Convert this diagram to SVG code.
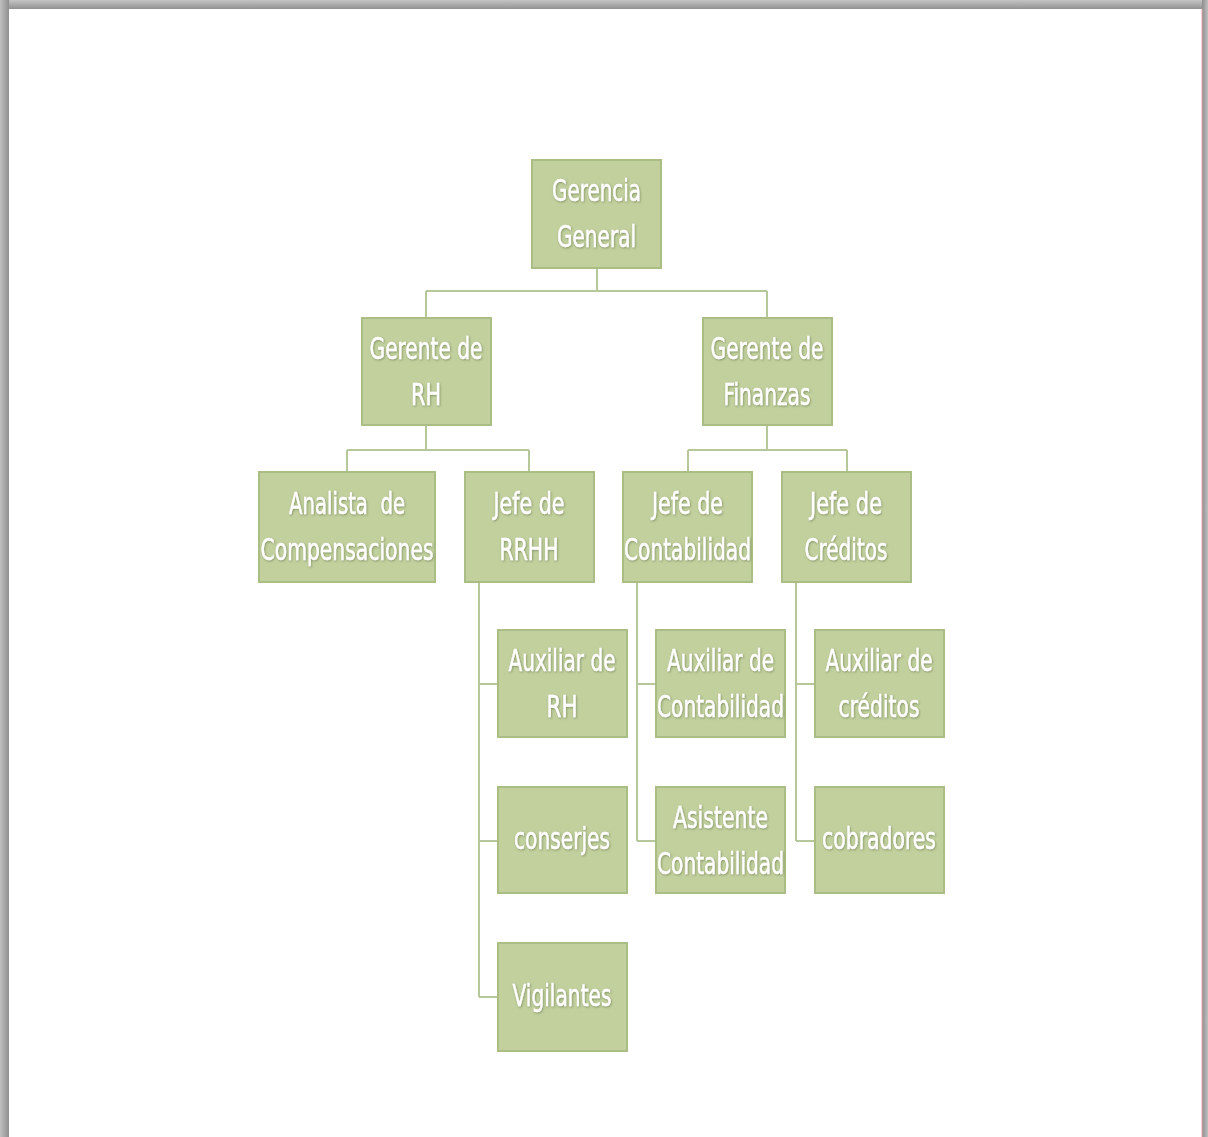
<svg xmlns="http://www.w3.org/2000/svg" width="1208" height="1137" viewBox="0 0 1208 1137">
<defs>
<linearGradient id="top" x1="0" y1="0" x2="0" y2="1"><stop offset="0" stop-color="#c4c4c4"/><stop offset="1" stop-color="#8c8c8c"/></linearGradient>
<linearGradient id="left" x1="0" y1="0" x2="1" y2="0"><stop offset="0" stop-color="#c0c0c0"/><stop offset="1" stop-color="#8e8e8e"/></linearGradient>
<linearGradient id="right" x1="0" y1="0" x2="1" y2="0"><stop offset="0" stop-color="#8e8e8e"/><stop offset="1" stop-color="#c0c0c0"/></linearGradient>
<filter id="ts" x="-5%" y="-10%" width="110%" height="130%"><feDropShadow dx="0.8" dy="1" stdDeviation="0.8" flood-color="#6d7d4c" flood-opacity="0.7"/></filter>
</defs>
<style>
.box{fill:#c2d09e;stroke:#aabd84;stroke-width:2}
.t{font-family:"Liberation Sans Narrow","DejaVu Sans Condensed","Liberation Sans",sans-serif;font-size:31px;fill:#ffffff;stroke:#ffffff;stroke-width:0.5;text-anchor:middle;filter:url(#ts)}
.c{fill:none;stroke:#b6c79a;stroke-width:2}
</style>
<rect x="0" y="0" width="1208" height="1137" fill="#9a9a9a"/>
<rect x="0" y="0" width="1208" height="10" fill="url(#top)"/>
<rect x="0" y="0" width="9" height="1137" fill="url(#left)"/>
<rect x="1202" y="0" width="6" height="1137" fill="url(#right)"/>
<rect x="9" y="9" width="1193" height="1128" fill="#ffffff"/>
<line x1="1202" y1="9" x2="1202" y2="1137" stroke="#e8a0a8" stroke-width="1"/>

<g id="connectors">
<path class="c" d="M597,268 V291 M426,291 H767 M426,291 V318 M767,291 V318"/>
<path class="c" d="M426,425 V450 M347,450 H529 M347,450 V472 M529,450 V472"/>
<path class="c" d="M767,425 V450 M688,450 H847 M688,450 V472 M847,450 V472"/>
<path class="c" d="M479,582 V997 M479,684 H498 M479,841 H498 M479,997 H498"/>
<path class="c" d="M637,582 V841 M637,684 H656 M637,841 H656"/>
<path class="c" d="M796,582 V841 M796,684 H815 M796,841 H815"/>
</g>

<g id="gerencia-general"><rect class="box" x="532" y="160" width="129" height="108"/>
<text class="t" x="596.5" y="201" textLength="89" lengthAdjust="spacingAndGlyphs">Gerencia</text>
<text class="t" x="596.5" y="247" textLength="79" lengthAdjust="spacingAndGlyphs">General</text></g>

<g id="gerente-rh"><rect class="box" x="362" y="318" width="129" height="107"/>
<text class="t" x="426" y="359" textLength="113" lengthAdjust="spacingAndGlyphs">Gerente de</text>
<text class="t" x="426" y="405" textLength="30" lengthAdjust="spacingAndGlyphs">RH</text></g>

<g id="gerente-finanzas"><rect class="box" x="703" y="318" width="129" height="107"/>
<text class="t" x="767" y="359" textLength="113" lengthAdjust="spacingAndGlyphs">Gerente de</text>
<text class="t" x="767" y="405" textLength="87" lengthAdjust="spacingAndGlyphs">Finanzas</text></g>

<g id="analista"><rect class="box" x="259" y="472" width="176" height="110"/>
<text class="t" x="347" y="514" textLength="116" lengthAdjust="spacingAndGlyphs" xml:space="preserve">Analista  de</text>
<text class="t" x="347" y="560" textLength="173" lengthAdjust="spacingAndGlyphs">Compensaciones</text></g>

<g id="jefe-rrhh"><rect class="box" x="465" y="472" width="129" height="110"/>
<text class="t" x="529" y="514" textLength="71" lengthAdjust="spacingAndGlyphs">Jefe de</text>
<text class="t" x="529" y="560" textLength="59" lengthAdjust="spacingAndGlyphs">RRHH</text></g>

<g id="jefe-contabilidad"><rect class="box" x="623" y="472" width="129" height="110"/>
<text class="t" x="687.5" y="514" textLength="71" lengthAdjust="spacingAndGlyphs">Jefe de</text>
<text class="t" x="687.5" y="560" textLength="127" lengthAdjust="spacingAndGlyphs">Contabilidad</text></g>

<g id="jefe-creditos"><rect class="box" x="782" y="472" width="129" height="110"/>
<text class="t" x="846" y="514" textLength="72" lengthAdjust="spacingAndGlyphs">Jefe de</text>
<text class="t" x="846" y="560" textLength="83" lengthAdjust="spacingAndGlyphs">Créditos</text></g>

<g id="auxiliar-rh"><rect class="box" x="498" y="630" width="129" height="107"/>
<text class="t" x="562" y="671" textLength="107" lengthAdjust="spacingAndGlyphs">Auxiliar de</text>
<text class="t" x="562" y="717" textLength="31" lengthAdjust="spacingAndGlyphs">RH</text></g>

<g id="conserjes"><rect class="box" x="498" y="787" width="129" height="106"/>
<text class="t" x="562" y="849" textLength="96" lengthAdjust="spacingAndGlyphs">conserjes</text></g>

<g id="vigilantes"><rect class="box" x="498" y="943" width="129" height="108"/>
<text class="t" x="562" y="1006" textLength="99" lengthAdjust="spacingAndGlyphs">Vigilantes</text></g>

<g id="auxiliar-contabilidad"><rect class="box" x="656" y="630" width="129" height="107"/>
<text class="t" x="720.5" y="671" textLength="107" lengthAdjust="spacingAndGlyphs">Auxiliar de</text>
<text class="t" x="720.5" y="717" textLength="127" lengthAdjust="spacingAndGlyphs">Contabilidad</text></g>

<g id="asistente-contabilidad"><rect class="box" x="656" y="787" width="129" height="106"/>
<text class="t" x="720.5" y="828" textLength="95" lengthAdjust="spacingAndGlyphs">Asistente</text>
<text class="t" x="720.5" y="874" textLength="127" lengthAdjust="spacingAndGlyphs">Contabilidad</text></g>

<g id="auxiliar-creditos"><rect class="box" x="815" y="630" width="129" height="107"/>
<text class="t" x="879" y="671" textLength="107" lengthAdjust="spacingAndGlyphs">Auxiliar de</text>
<text class="t" x="879" y="717" textLength="81" lengthAdjust="spacingAndGlyphs">créditos</text></g>

<g id="cobradores"><rect class="box" x="815" y="787" width="129" height="106"/>
<text class="t" x="879" y="849" textLength="114" lengthAdjust="spacingAndGlyphs">cobradores</text></g>
</svg>
